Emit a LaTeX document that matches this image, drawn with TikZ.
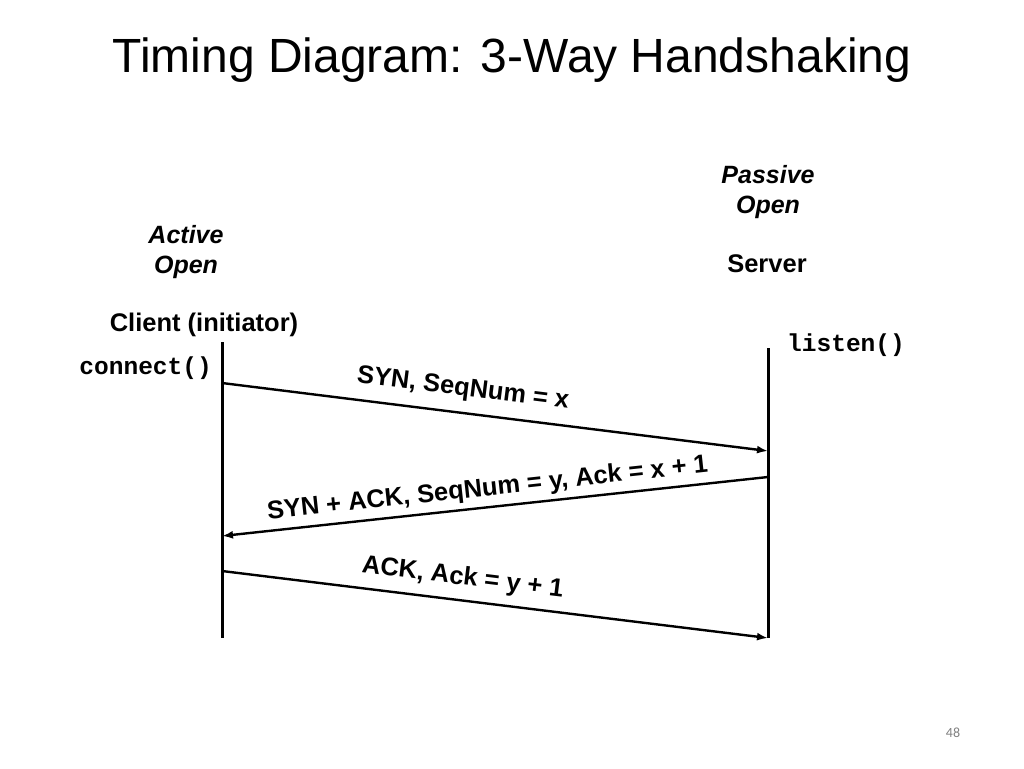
\documentclass[tikz,border=0pt]{standalone}
\usepackage{fontspec}
\setmainfont{Liberation Sans}
\newfontfamily\codefont{Liberation Mono}
\newfontfamily\pagefont{Carlito}
\usetikzlibrary{arrows.meta}

\begin{document}
\begin{tikzpicture}[x=1pt,y=-1pt]
	% Set styles
	\tikzset{
		role text/.style={font=\bfseries\fontsize{25.5}{30}\selectfont, align=center, inner sep=0pt},
		open text/.style={font=\bfseries\itshape\fontsize{25}{30.5}\selectfont, align=center, inner sep=0pt},
		call text/.style={font=\codefont\bfseries\fontsize{24.5}{30}\selectfont, inner sep=0pt},
		time line/.style={line width=3pt},
		message/.style={line width=2.4pt, -{Latex[length=11pt,width=8pt]}},
		msg text/.style={font=\bfseries\fontsize{25.5}{30}\selectfont, inner sep=0pt, sloped}
	}
	\useasboundingbox (0,0) rectangle (1024,768);
	
	% Title
	\node[font=\fontsize{48}{50}\selectfont] (title) at (512,60) {Timing Diagram: 3-Way Handshaking};
	
	% The two hosts
	\node[open text] (active) at (186,252) {Active\\Open};
	\node[role text] (client) at (204,325) {Client (initiator)};
	\node[open text] (passive) at (768,192) {Passive\\Open};
	\node[role text] (server) at (767,264) {Server};
	
	% Socket calls
	\node[call text, anchor=east] (connect) at (212,368) {connect()};
	\node[call text, anchor=west] (listen) at (787,345) {listen()};
	
	% Time lines
	\coordinate (c-top) at (222,342);
	\coordinate (c-bot) at (222,638);
	\coordinate (s-top) at (768,348);
	\coordinate (s-bot) at (768,638);
	\draw[time line] (c-top) -- (c-bot);
	\draw[time line] (s-top) -- (s-bot);
	
	% Segments exchanged
	\coordinate (c-syn) at (222,383);
	\coordinate (s-syn) at (768,451);
	\coordinate (s-synack) at (768,477);
	\coordinate (c-synack) at (222,536);
	\coordinate (c-ack) at (222,571);
	\coordinate (s-ack) at (768,638);
	\draw[message] (c-syn) -- node[msg text, above=11pt, pos=0.436] (syn) {SYN, SeqNum = x} (s-syn);
	\draw[message] (s-synack) -- node[msg text, above=5pt, pos=0.51] (synack) {SYN + ACK, SeqNum = y, Ack = x + 1} (c-synack);
	\draw[message] (c-ack) -- node[msg text, above=9pt, pos=0.436] (ack) {ACK, Ack = y + 1} (s-ack);
	
	% Slide number
	\node[font=\pagefont\fontsize{14}{16}\selectfont, text=gray] (page) at (953,733) {48};
\end{tikzpicture}
\end{document}
